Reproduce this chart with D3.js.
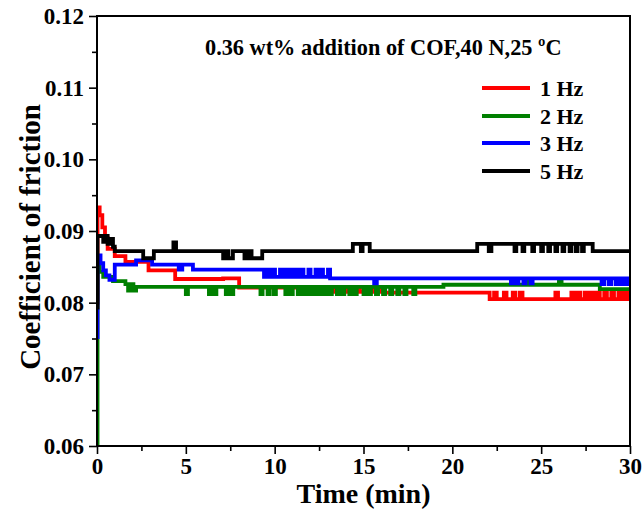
<!DOCTYPE html>
<html><head><meta charset="utf-8">
<script src="https://cdn.jsdelivr.net/npm/d3@7"></script>
<style>
html,body{margin:0;padding:0;background:#fff;}
text{font-family:"Liberation Serif","Times New Roman",serif;font-weight:bold;fill:#000;}
</style></head>
<body><svg id="c" width="643" height="519"></svg>
<script>
// ---- data (time in min, coefficient of friction), step-wise records ----
const seriesNames = ["1 Hz", "2 Hz", "3 Hz", "5 Hz"];
const seriesColors = ["#ff0000", "#008000", "#0000ff", "#000000"];
const xTicks = [0, 5, 10, 15, 20, 25, 30];
const yTicks = [0.06, 0.07, 0.08, 0.09, 0.10, 0.11, 0.12];
const annotation = "0.36 wt% addition of COF,40 N,25 \u00baC";

const red1Hz = [
 [0,0.0800],[0.03,0.0933],[0.15,0.0922],[0.3,0.0905],[0.45,0.0890],[0.6,0.0875],[1.0,0.0865],
 [1.6,0.0857],[2.9,0.0845],[4.4,0.0833],[7.1,0.0834],[8.0,0.0821],[12.9,0.0815],[13.2,0.0820],
 [13.4,0.0815],[13.9,0.0820],[14.1,0.0815],[14.6,0.0820],[14.8,0.0815],[15.3,0.0820],[15.5,0.0815],
 [16.0,0.0820],[16.2,0.0814],[22.1,0.0805],[22.35,0.0814],[22.5,0.0805],[22.9,0.0814],[23.05,0.0805],
 [23.4,0.0814],[23.55,0.0805],[23.8,0.0814],[23.95,0.0805],[25.8,0.0814],[25.95,0.0805],
 [26.7,0.0814],[26.85,0.0805],[27.05,0.0814],[27.2,0.0805],[27.45,0.0814],[27.6,0.0805],
 [27.8,0.0814],[27.95,0.0805],[28.15,0.0814],[28.3,0.0805],[28.55,0.0814],[28.7,0.0805],
 [28.95,0.0814],[29.1,0.0805],[29.35,0.0814],[29.5,0.0805],[29.7,0.0814],[29.85,0.0805],[30,0.0805]
];
const green2Hz = [
 [0,0.0600],[0.03,0.0850],[0.15,0.0843],[0.35,0.0836],[0.9,0.0830],[1.6,0.0826],[1.75,0.0817],
 [1.9,0.0826],[2.05,0.0817],[2.2,0.0822],[5.0,0.0812],[5.12,0.0822],[6.3,0.0812],[6.42,0.0822],
 [6.6,0.0812],[6.72,0.0822],[7.25,0.0812],[7.37,0.0822],[7.55,0.0812],[7.67,0.0822],[9.2,0.0812],
 [9.32,0.0822],[9.6,0.0812],[9.72,0.0822],[9.95,0.0812],[10.07,0.0822],[10.6,0.0812],[10.72,0.0822],
 [10.9,0.0812],[11.02,0.0822],[11.3,0.0812],[11.42,0.0822],[11.6,0.0812],[11.72,0.0822],
 [11.9,0.0812],[12.02,0.0822],[12.2,0.0812],[12.32,0.0822],[12.5,0.0812],[12.62,0.0822],
 [12.8,0.0812],[12.92,0.0822],[13.1,0.0812],[13.22,0.0822],[13.5,0.0812],[13.62,0.0822],
 [13.8,0.0812],[13.92,0.0822],[14.2,0.0812],[14.32,0.0822],[14.5,0.0812],[14.62,0.0822],
 [15.0,0.0812],[15.12,0.0822],[15.3,0.0812],[15.42,0.0822],[15.7,0.0812],[15.82,0.0822],
 [16.1,0.0812],[16.22,0.0822],[16.5,0.0812],[16.62,0.0822],[16.9,0.0812],[17.02,0.0822],
 [17.3,0.0812],[17.42,0.0822],[17.8,0.0812],[17.92,0.0822],[19.5,0.0825],[24.3,0.0829],
 [24.45,0.0825],[26.0,0.0829],[26.15,0.0825],[28.3,0.0819],[30,0.0819]
];
const blue3Hz = [
 [0,0.0752],[0.03,0.0866],[0.2,0.0855],[0.35,0.0845],[0.5,0.0838],[0.7,0.0832],[1.0,0.0853],
 [2.2,0.0859],[3.1,0.0853],[4.6,0.0846],[4.8,0.0853],[5.4,0.0846],[9.4,0.0836],[9.6,0.0846],
 [9.72,0.0836],[9.9,0.0846],[10.02,0.0836],[10.3,0.0846],[10.42,0.0836],[10.6,0.0846],[10.72,0.0836],
 [10.9,0.0846],[11.02,0.0836],[11.2,0.0846],[11.32,0.0836],[11.5,0.0846],[11.62,0.0836],
 [11.9,0.0846],[12.02,0.0836],[12.3,0.0846],[12.42,0.0836],[12.6,0.0846],[12.72,0.0836],
 [13.0,0.0846],[13.12,0.0834],[15.6,0.0827],[15.75,0.0834],[23.3,0.0827],[23.42,0.0834],
 [23.6,0.0827],[23.72,0.0834],[24.0,0.0827],[24.12,0.0834],[24.4,0.0827],[24.52,0.0834],
 [28.4,0.0826],[28.55,0.0834],[28.8,0.0826],[28.95,0.0834],[29.2,0.0826],[29.35,0.0834],
 [29.55,0.0826],[29.7,0.0834],[29.85,0.0826],[30,0.0826]
];
const black5Hz = [
 [0,0.0793],[0.03,0.0893],[0.35,0.0885],[0.45,0.0893],[0.6,0.0882],[0.75,0.0889],[0.9,0.0878],
 [1.0,0.0872],[2.6,0.0862],[3.2,0.0872],[4.3,0.0884],[4.45,0.0872],[7.1,0.0862],[7.25,0.0872],
 [7.4,0.0862],[7.65,0.0872],[8.3,0.0862],[8.5,0.0872],[8.7,0.0862],[9.3,0.0872],[14.4,0.0882],
 [14.85,0.0872],[14.95,0.0882],[15.35,0.0872],[21.4,0.0882],[22.05,0.0872],[22.2,0.0882],
 [23.5,0.0872],[23.6,0.0882],[23.95,0.0872],[24.05,0.0882],[24.5,0.0872],[24.6,0.0882],
 [25.0,0.0872],[25.1,0.0882],[25.4,0.0872],[25.5,0.0882],[25.8,0.0872],[25.9,0.0882],
 [26.2,0.0872],[26.3,0.0882],[26.6,0.0872],[26.7,0.0882],[26.95,0.0872],[27.05,0.0882],
 [27.3,0.0872],[27.4,0.0882],[27.9,0.0872],[30,0.0872]
];
const allSeries = [red1Hz, green2Hz, blue3Hz, black5Hz];

// ---- layout ----
const W = 643, H = 519;
const m = {left: 97, top: 16, right: 13, bottom: 73};
const iw = W - m.left - m.right, ih = H - m.top - m.bottom;
const svg = d3.select("#c");
const g = svg.append("g").attr("transform", `translate(${m.left},${m.top})`);

const x = d3.scaleLinear().domain([0, 30]).range([0, iw]);
const y = d3.scaleLinear().domain([0.06, 0.12]).range([ih, 0]);

svg.append("defs").append("clipPath").attr("id","clip")
  .append("rect").attr("width", iw).attr("height", ih);

// lines
const line = d3.line().x(d => x(d[0])).y(d => y(d[1])).curve(d3.curveStepAfter);
const lg = g.append("g").attr("clip-path","url(#clip)");
allSeries.forEach((s, i) => {
  lg.append("path").attr("d", line(s)).attr("fill","none")
    .attr("stroke", seriesColors[i]).attr("stroke-width", 3.8)
    .attr("stroke-linejoin","miter");
});

// axes
const fs = 23;
const xMinor = d3.range(0, 31, 2.5).filter(v => xTicks.indexOf(v) < 0);
const yMinor = d3.range(0, 6).map(i => 0.065 + i*0.01);
g.append("g").attr("transform", `translate(0,${ih})`)
  .call(d3.axisBottom(x).tickValues(xTicks).tickFormat(d3.format("d")).tickSize(8).tickPadding(4));
g.append("g").attr("transform", `translate(0,${ih})`)
  .call(d3.axisBottom(x).tickValues(xMinor).tickFormat("").tickSize(5));
g.append("g")
  .call(d3.axisLeft(y).tickValues(yTicks).tickFormat(d3.format(".2f")).tickSize(8).tickPadding(5));
g.append("g").call(d3.axisLeft(y).tickValues(yMinor).tickFormat("").tickSize(5));
g.selectAll(".domain").remove();
g.selectAll(".tick line").attr("stroke","#000").attr("stroke-width",1.6);
g.selectAll(".tick text").style("font-size", fs+"px").style("font-family","Liberation Serif").style("font-weight","bold").attr("fill","#000");

// frame
g.append("rect").attr("width", iw).attr("height", ih).attr("fill","none")
  .attr("stroke","#000").attr("stroke-width",2);

// titles
svg.append("text").attr("x", m.left + iw/2).attr("y", 503).attr("text-anchor","middle")
  .style("font-size","28px").text("Time (min)");
svg.append("text").attr("transform", `translate(40,${m.top + ih/2 + 6}) rotate(-90)`)
  .attr("text-anchor","middle").style("font-size","29px").text("Coefficient of friction");

// annotation
svg.append("text").attr("x", 205).attr("y", 55).style("font-size","22.3px").text(annotation);

// legend
const legY = [88, 116, 143, 171];
seriesNames.forEach((n, i) => {
  svg.append("line").attr("x1", 482).attr("x2", 530).attr("y1", legY[i]).attr("y2", legY[i])
    .attr("stroke", seriesColors[i]).attr("stroke-width", 3.8);
  svg.append("text").attr("x", 540).attr("y", legY[i] + 8).style("font-size","22px").text(n);
});
</script></body></html>
